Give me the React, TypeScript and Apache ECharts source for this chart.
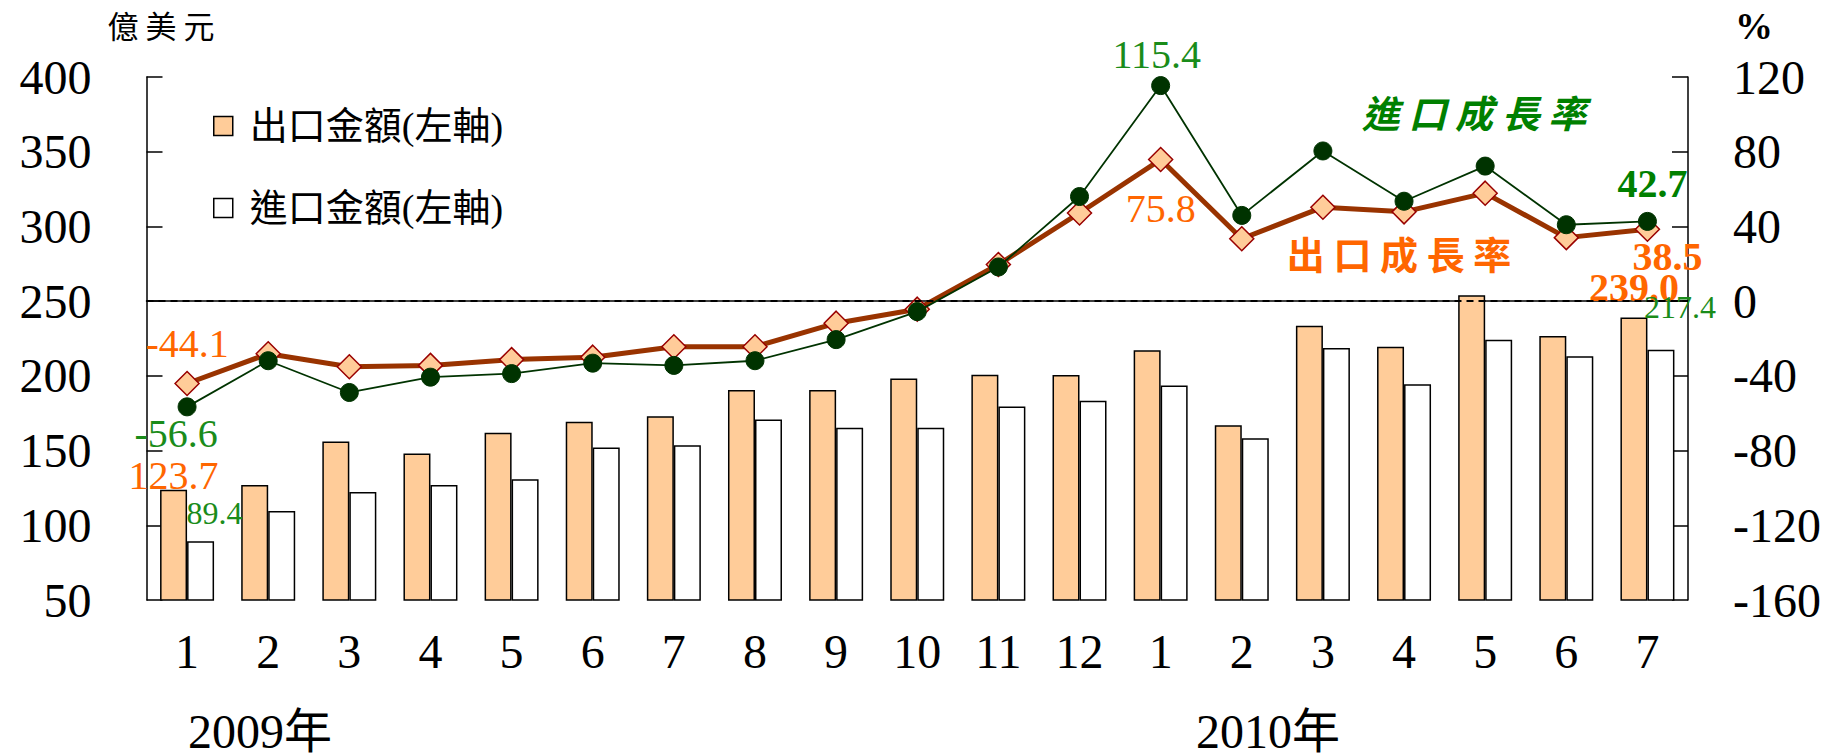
import React, { useEffect, useRef } from "react";
import * as echarts from "echarts";

// ---- data ----
const months = [
  "2009-1", "2009-2", "2009-3", "2009-4", "2009-5", "2009-6", "2009-7", "2009-8", "2009-9", "2009-10", "2009-11", "2009-12",
  "2010-1", "2010-2", "2010-3", "2010-4", "2010-5", "2010-6", "2010-7",
];
const yearLabels = ["2009年", "2010年"];
const exportValue = [123.7, 127.0, 156.0, 148.0, 162.0, 169.3, 173.0, 190.5, 190.5, 198.3, 200.7, 200.5, 217.1, 166.9, 233.6, 219.5, 254.0, 226.6, 239.0];
const importValue = [89.4, 109.6, 122.2, 127.0, 130.8, 152.0, 153.6, 170.8, 165.3, 165.3, 179.5, 183.4, 193.6, 158.3, 218.7, 194.4, 224.2, 213.2, 217.4];
const exportGrowth = [-44.1, -28.2, -35.1, -34.4, -31.3, -30.0, -24.4, -24.4, -11.8, -4.3, 19.6, 47.2, 75.8, 33.4, 50.3, 47.8, 57.8, 34.0, 38.5];
const importGrowth = [-56.6, -31.9, -48.9, -40.7, -38.8, -33.2, -34.4, -31.9, -20.6, -5.6, 18.3, 56.0, 115.4, 45.9, 80.4, 53.5, 72.3, 40.9, 42.7];
const leftTicks = { min: 50, max: 400, interval: 50 };
const rightTicks = { min: -160, max: 120, interval: 40 };
const seriesNames = ["出口金額(左軸)", "進口金額(左軸)", "出口成長率", "進口成長率"];

const FONT = '"Liberation Serif", "Times New Roman", "Noto Sans CJK TC", serif';
const CJK = '"Noto Sans CJK TC", "Liberation Serif", serif';
const ORANGE = "#FF6600";
const GREEN = "#1A8C1A";

// label styling for annotated points (index -> label config)
const exportValueLabels: Record<number, any> = {
  0: { position: "top", distance: 0, offset: [0, 6], fontSize: 40, color: ORANGE },
  18: { position: "top", distance: 10, fontSize: 40, fontWeight: "bold", color: ORANGE },
};
const importValueLabels: Record<number, any> = {
  0: { position: "top", distance: 12, offset: [14, 0], fontSize: 32, color: GREEN },
  18: { position: "top", distance: 27, offset: [19, 0], fontSize: 32, color: GREEN },
};
const exportGrowthLabels: Record<number, any> = {
  0: { position: "top", distance: 7, fontSize: 40, color: ORANGE },
  12: { position: "bottom", distance: 16, fontSize: 40, color: ORANGE },
  18: { position: "bottom", distance: -5, offset: [20, 0], fontSize: 40, fontWeight: "bold", color: ORANGE },
};
const importGrowthLabels: Record<number, any> = {
  0: { position: "bottom", distance: -3, offset: [-11, 0], fontSize: 40, color: GREEN },
  12: { position: "top", distance: 2, offset: [-4, 0], fontSize: 40, color: GREEN },
  18: { position: "top", distance: 8, offset: [5, 0], fontSize: 40, fontWeight: "bold", color: "#008000" },
};

function withLabels(values: number[], labels: Record<number, any>) {
  return values.map((v, i) =>
    labels[i]
      ? { value: v, label: { show: true, fontFamily: FONT, formatter: v.toFixed(1), ...labels[i] } }
      : v
  );
}

export default function App() {
  const ref = useRef<HTMLDivElement>(null);
  useEffect(() => {
    if (!ref.current) return;
    const chart = echarts.init(ref.current, null, { renderer: "svg" });
    const txt = (text: string, x: number, y: number, style: any) => ({
      type: "text",
      x,
      y,
      silent: true,
      style: { text, textAlign: style.align || "center", textVerticalAlign: "middle", align: style.align || "center", verticalAlign: "middle", ...style },
    });
    chart.setOption({
      animation: false,
      backgroundColor: "#fff",
      grid: { left: 146.5, right: 150, top: 77, bottom: 156, containLabel: false },
      legend: {
        data: [seriesNames[0], seriesNames[1]],
        orient: "vertical",
        left: 208,
        top: 102,
        itemWidth: 19,
        itemHeight: 19,
        itemGap: 44,
        icon: "rect",
        itemStyle: { borderColor: "#000", borderWidth: 1.5 },
        textStyle: { fontSize: 38, fontFamily: FONT, color: "#000", padding: [0, 0, 0, 12] },
      },
      xAxis: {
        type: "category",
        data: months,
        axisLine: { show: true, lineStyle: { color: "#000", width: 1.5 } },
        axisTick: { show: false },
        axisLabel: { fontSize: 48, fontFamily: FONT, color: "#000", margin: 27, formatter: (v: string) => v.split("-")[1] },
        splitLine: { show: false },
      },
      yAxis: [
        {
          type: "value",
          ...leftTicks,
          position: "left",
          axisLine: { show: true, lineStyle: { color: "#000", width: 1.5 } },
          axisTick: { show: true, inside: true, length: 16, lineStyle: { color: "#000", width: 1.5 } },
          axisLabel: { fontSize: 48, fontFamily: FONT, color: "#000", margin: 55 },
          splitLine: { show: false },
        },
        {
          type: "value",
          ...rightTicks,
          position: "right",
          axisLine: { show: true, lineStyle: { color: "#000", width: 1.5 } },
          axisTick: { show: true, inside: true, length: 16, lineStyle: { color: "#000", width: 1.5 } },
          axisLabel: { fontSize: 48, fontFamily: FONT, color: "#000", margin: 45 },
          splitLine: { show: false },
        },
      ],
      series: [
        {
          name: seriesNames[0],
          type: "bar",
          yAxisIndex: 0,
          barWidth: 27,
          barGap: "0%",
          itemStyle: { color: "#FFCC99", borderColor: "#000", borderWidth: 1.5 },
          data: withLabels(exportValue, exportValueLabels),
        },
        {
          name: seriesNames[1],
          type: "bar",
          yAxisIndex: 0,
          barWidth: 27,
          barGap: "0%",
          itemStyle: { color: "#FFFFFF", borderColor: "#000", borderWidth: 1.5 },
          data: withLabels(importValue, importValueLabels),
        },
        {
          name: seriesNames[2],
          type: "line",
          yAxisIndex: 1,
          symbol: "diamond",
          symbolSize: 24,
          lineStyle: { color: "#993300", width: 5 },
          itemStyle: { color: "#FFCC99", borderColor: "#990000", borderWidth: 1.5 },
          data: withLabels(exportGrowth, exportGrowthLabels),
          markLine: {
            silent: true,
            symbol: ["none", "none"],
            label: { show: false },
            lineStyle: { color: "#000", type: [7, 5], width: 2 },
            data: [{ yAxis: 0 }],
          },
          z: 3,
        },
        {
          name: seriesNames[3],
          type: "line",
          yAxisIndex: 1,
          symbol: "circle",
          symbolSize: 18,
          lineStyle: { color: "#003300", width: 1.8 },
          itemStyle: { color: "#003300", borderColor: "#003300", borderWidth: 1 },
          data: withLabels(importGrowth, importGrowthLabels),
          z: 4,
        },
      ],
      graphic: [
        txt("億 美 元", 161, 24, { fontSize: 31, fontFamily: CJK, fill: "#000" }),
        txt("%", 1754, 26, { fontSize: 38, fontFamily: FONT, fontWeight: "bold", fill: "#000" }),
        txt("進 口 成 長 率", 1474, 111, { fontSize: 38, fontFamily: CJK, fontWeight: "bold", fontStyle: "italic", fill: "#008000" }),
        txt("出 口 成 長 率", 1399, 252, { fontSize: 38, fontFamily: CJK, fontWeight: "bold", fill: ORANGE }),
        txt(yearLabels[0], 188, 731, { fontSize: 48, lineHeight: 40, fontFamily: FONT, fill: "#000", align: "left" }),
        txt(yearLabels[1], 1196, 731, { fontSize: 48, lineHeight: 40, fontFamily: FONT, fill: "#000", align: "left" }),
      ],
    });
    return () => chart.dispose();
  }, []);
  return <div ref={ref} style={{ position: "absolute", left: 0, top: 0, width: 1838, height: 756 }} />;
}
